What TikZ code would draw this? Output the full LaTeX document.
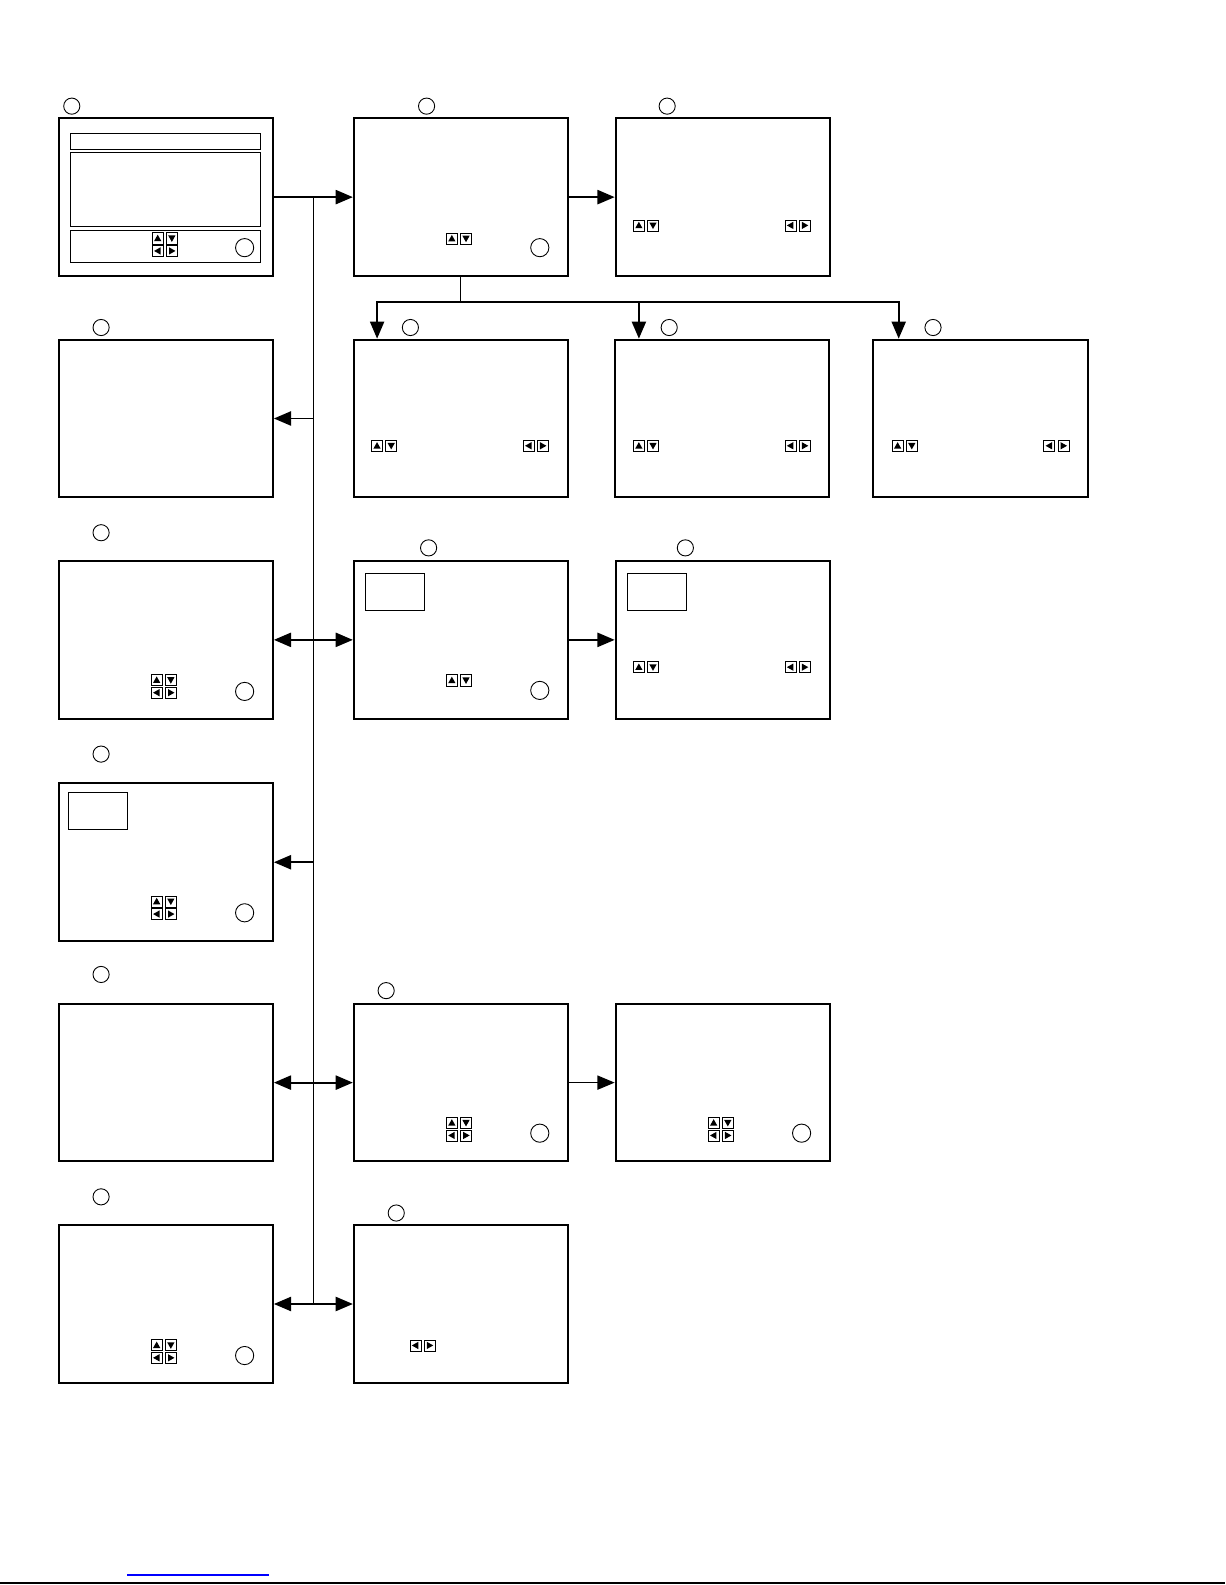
\documentclass[tikz,border=0pt]{standalone}
\usetikzlibrary{arrows.meta}
\tikzset{
  screen/.style={draw,line width=1.1pt,minimum width=4.24cm,minimum height=3.12cm,inner sep=0pt},
  tag/.style={draw,circle,line width=0.5pt,minimum size=0.32cm,inner sep=0pt},
  knob/.style={draw,circle,line width=0.5pt,minimum size=0.36cm,inner sep=0pt},
  link/.style={line width=1.1pt},
  thinlink/.style={line width=0.6pt},
  pics/btn/.style={code={
    \draw[line width=0.4pt,fill=white](-5.5,-5.5)rectangle(5.5,5.5);
    \fill[rotate=#1](3.6,0)--(-2.8,3.6)--(-2.8,-3.6)--cycle;}},
  pics/updown/.style={code={\pic at(-7,0){btn=90};\pic at(7,0){btn=-90};}},
  pics/leftright/.style={code={\pic at(-7,0){btn=180};\pic at(7,0){btn=0};}},
  pics/keypad/.style={code={\pic at(0,-6.25){updown};\pic at(0,6.25){leftright};}}
}
\begin{document}
\begin{tikzpicture}[x=0.02cm,y=-0.02cm,>={Triangle[length=0.34cm,width=0.28cm]}]
\useasboundingbox(0,0)rectangle(1212,1568);
% screens
\node[screen](a)at(164,195){};
\node[screen](b)at(456,195){};
\node[screen](c)at(715,195){};
\node[screen](d)at(164,414){};
\node[screen](e)at(456,414){};
\node[screen](f)at(714,414){};
\node[screen](g)at(970,414){};
\node[screen](h)at(164,633){};
\node[screen](i)at(456,633){};
\node[screen](j)at(715,633){};
\node[screen](k)at(164,853){};
\node[screen](l)at(164,1071){};
\node[screen](m)at(456,1071){};
\node[screen](n)at(715,1071){};
\node[screen](o)at(164,1290){};
\node[screen](p)at(456,1290){};
% tags
\node[tag](ta)at(71,105){};
\node[tag](tb)at(422,105){};
\node[tag](tc)at(660,105){};
\node[tag](td)at(100,324){};
\node[tag](te)at(406,324){};
\node[tag](tf)at(662,324){};
\node[tag](tg)at(923,324){};
\node[tag](th)at(100,527){};
\node[tag](ti)at(424,542){};
\node[tag](tj)at(678,542){};
\node[tag](tk)at(100,746){};
\node[tag](tl)at(100,964){};
\node[tag](tm)at(382,980){};
\node[tag](to)at(100,1184){};
\node[tag](tp)at(392,1200){};
% panels
\draw[line width=0.6pt](70,132)rectangle(258,148)(70,151)rectangle(258,224)(70,228)rectangle(258,260);
\draw[line width=0.6pt](362,567)rectangle(420,604);
\draw[line width=0.6pt](621,567)rectangle(679,604);
\draw[line width=0.6pt](68,784)rectangle(126,821);
% keys
\pic at(163,242){keypad};
\pic at(454,236){updown};
\pic at(639,223){updown};\pic at(789,223){leftright};
\pic at(380,441){updown};\pic at(530,441){leftright};
\pic at(639,441){updown};\pic at(789,441){leftright};
\pic at(895,441){updown};\pic at(1045,441){leftright};
\pic at(162,679){keypad};
\pic at(454,673){updown};
\pic at(639,660){updown};\pic at(789,660){leftright};
\pic at(162,898){keypad};
\pic at(454,1117){keypad};
\pic at(713,1117){keypad};
\pic at(162,1337){keypad};
\pic at(418,1331){leftright};
% knobs
\node[knob](ka)at(242,245){};
\node[knob](kb)at(534,245){};
\node[knob](kh)at(242,684){};
\node[knob](ki)at(534,683){};
\node[knob](kk)at(242,903){};
\node[knob](km)at(534,1121){};
\node[knob](kn)at(793,1121){};
\node[knob](ko)at(242,1341){};
% connectors
\coordinate(bustop)at(310,195);
\coordinate(busend)at(310,1290);
\draw[thinlink](bustop)--(busend);
\draw[link,->](a.east)--(b.west);
\draw[link,->](b.east)--(c.west);
\draw[thinlink](b.south)--++(0,25)coordinate(fork);
\draw[link,->](fork)-|([xshift=0.48cm]e.north west);
\draw[link,->](fork)-|([xshift=0.5cm]f.north west);
\draw[link,->](fork)-|([xshift=0.52cm]g.north west);
\draw[link,->](bustop|-d.east)--(d.east);
\draw[link,<->](h.east)--(i.west);
\draw[link,->](i.east)--(j.west);
\draw[link,->](bustop|-k.east)--(k.east);
\draw[link,<->](l.east)--(m.west);
\draw[thinlink,->](m.east)--(n.west);
\draw[link,<->](o.east)--(p.west);
% foot
\draw[blue,line width=0.8pt](126,1558)--(266,1558);
\draw[line width=1.1pt](0,1566)--(1212,1566);
\end{tikzpicture}
\end{document}
